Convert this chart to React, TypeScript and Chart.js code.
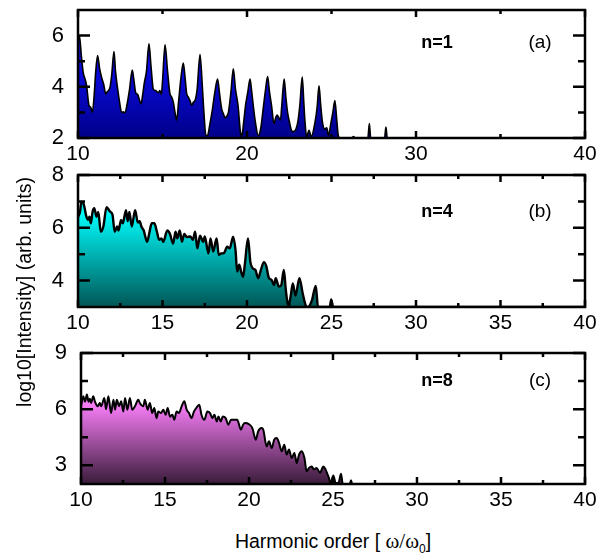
import React, { useEffect, useRef } from "react";
import { Chart, registerables } from "chart.js";

Chart.register(...registerables);

// ---------- data ----------
const xA = [10.0, 10.08, 10.2, 10.31, 10.42, 10.51, 10.65, 10.75, 10.85, 10.95, 11.05, 11.16, 11.28, 11.4, 11.52, 11.64, 11.72, 11.8, 11.9, 12.0, 12.13, 12.22, 12.35, 12.46, 12.58, 12.68, 12.78, 12.9, 13.05, 13.21, 13.3, 13.41, 13.53, 13.63, 13.73, 13.83, 13.93, 14.05, 14.2, 14.32, 14.46, 14.6, 14.75, 14.85, 14.93, 15.0, 15.15, 15.3, 15.44, 15.54, 15.64, 15.74, 15.84, 15.95, 16.1, 16.23, 16.33, 16.43, 16.53, 16.63, 16.73, 16.82, 16.92, 17.05, 17.22, 17.35, 17.45, 17.57, 17.66, 17.81, 17.95, 18.1, 18.26, 18.38, 18.5, 18.6, 18.7, 18.8, 18.9, 19.05, 19.19, 19.32, 19.47, 19.6, 19.69, 19.8, 19.92, 20.05, 20.18, 20.28, 20.37, 20.5, 20.67, 20.82, 20.95, 21.1, 21.22, 21.33, 21.45, 21.6, 21.7, 21.78, 21.88, 21.98, 22.05, 22.2, 22.3, 22.4, 22.52, 22.63, 22.75, 23.0, 23.13, 23.27, 23.36, 23.43, 23.53, 23.67, 23.8, 24.02, 24.15, 24.26, 24.36, 24.46, 24.6, 24.72, 24.82, 24.97, 25.08, 25.2, 25.3, 25.4, 25.5, 26.2, 26.3, 26.4, 27.15, 27.24, 27.32, 28.14, 28.22, 28.3, 40];
const yA = [5.7, 6.0, 5.2, 4.55, 4.3, 4.04, 3.27, 3.2, 3.0, 3.6, 4.6, 5.22, 4.7, 4.36, 4.1, 3.72, 3.8, 3.85, 4.0, 4.5, 5.38, 4.6, 3.9, 3.4, 3.0, 3.02, 2.98, 3.3, 3.9, 4.65, 4.3, 3.78, 3.7, 3.5, 3.33, 3.7, 4.17, 4.6, 5.68, 4.8, 3.9, 3.85, 3.77, 3.85, 3.7, 4.2, 5.64, 4.6, 3.73, 3.6, 3.4, 3.0, 2.69, 3.4, 4.4, 4.93, 4.4, 3.73, 3.6, 3.45, 3.27, 3.4, 3.46, 3.9, 5.26, 4.1, 3.0, 2.1, 2.1, 2.56, 3.1, 3.8, 4.3, 3.7, 3.14, 2.95, 2.8, 2.85, 3.0, 3.8, 4.7, 3.9, 3.27, 2.3, 2.05, 2.6, 3.3, 3.8, 4.3, 3.8, 3.27, 2.6, 2.1, 2.4, 3.1, 3.9, 4.4, 3.8, 3.27, 2.56, 2.8, 2.9, 2.8, 2.7, 3.2, 4.3, 3.6, 3.0, 2.6, 2.3, 2.25, 2.6, 3.3, 4.38, 3.4, 2.64, 2.05, 2.3, 2.05, 2.6, 3.2, 4.04, 3.3, 2.64, 2.35, 2.4, 2.1, 2.6, 3.0, 3.46, 2.8, 2.1, 2.0, 2.0, 2.06, 2.0, 2.0, 2.56, 2.0, 2.0, 2.43, 2.0, 2.0];

const xB = [10.0, 10.12, 10.2, 10.3, 10.5, 10.6, 10.68, 10.76, 10.86, 10.96, 11.1, 11.2, 11.35, 11.5, 11.69, 11.9, 12.04, 12.17, 12.32, 12.4, 12.55, 12.65, 12.84, 12.94, 13.04, 13.18, 13.38, 13.54, 13.65, 13.75, 13.89, 14.09, 14.22, 14.36, 14.52, 14.67, 14.8, 14.94, 15.05, 15.28, 15.44, 15.63, 15.77, 15.87, 16.02, 16.15, 16.29, 16.44, 16.64, 16.8, 16.93, 17.06, 17.22, 17.41, 17.5, 17.72, 17.84, 18.0, 18.2, 18.33, 18.48, 18.62, 18.83, 18.98, 19.18, 19.32, 19.42, 19.54, 19.67, 19.77, 19.87, 20.06, 20.2, 20.35, 20.5, 20.66, 20.82, 21.0, 21.14, 21.3, 21.45, 21.6, 21.7, 21.89, 22.03, 22.18, 22.3, 22.44, 22.57, 22.71, 22.87, 23.1, 23.3, 23.48, 23.6, 23.83, 24.07, 24.2, 24.9, 24.98, 25.1, 40];
const yB = [6.4, 6.61, 6.97, 6.95, 6.42, 6.3, 6.42, 6.17, 6.6, 6.74, 6.42, 6.6, 5.85, 6.05, 6.78, 6.61, 6.5, 5.85, 6.05, 5.9, 6.3, 6.17, 6.67, 6.25, 6.6, 6.05, 6.67, 6.2, 6.25, 6.05, 5.9, 5.47, 5.8, 6.17, 6.17, 5.85, 5.55, 5.6, 5.47, 5.9, 5.77, 5.4, 5.85, 5.6, 5.9, 5.47, 5.77, 5.65, 5.67, 5.55, 5.85, 5.22, 5.7, 5.47, 5.67, 5.03, 5.6, 5.1, 5.6, 4.97, 5.03, 5.03, 5.28, 5.22, 5.66, 5.15, 4.34, 4.6, 4.3, 4.15, 4.6, 5.6, 4.7, 4.46, 4.4, 4.09, 4.4, 4.7, 4.55, 4.09, 4.03, 3.83, 4.09, 3.77, 3.83, 4.4, 3.63, 3.05, 3.35, 3.89, 3.43, 4.09, 3.5, 3.05, 3.0, 3.23, 3.8, 3.0, 3.0, 3.29, 3.0, 3.0];

const xC = [10.0, 10.14, 10.24, 10.35, 10.45, 10.53, 10.6, 10.73, 10.83, 10.99, 11.12, 11.2, 11.39, 11.49, 11.63, 11.79, 11.93, 12.03, 12.13, 12.27, 12.39, 12.52, 12.62, 12.76, 12.91, 13.05, 13.21, 13.41, 13.5, 13.71, 13.8, 13.97, 14.1, 14.24, 14.36, 14.5, 14.6, 14.76, 14.9, 15.04, 15.16, 15.3, 15.44, 15.55, 15.69, 15.83, 15.99, 16.15, 16.29, 16.43, 16.58, 16.72, 16.86, 17.04, 17.17, 17.34, 17.52, 17.68, 17.82, 17.94, 18.08, 18.18, 18.32, 18.44, 18.61, 18.77, 18.93, 19.07, 19.3, 19.52, 19.65, 19.76, 19.99, 20.2, 20.4, 20.55, 20.75, 20.85, 21.05, 21.19, 21.35, 21.5, 21.65, 21.79, 21.95, 22.1, 22.24, 22.38, 22.54, 22.7, 22.84, 22.98, 23.14, 23.3, 23.43, 23.57, 23.73, 23.87, 24.02, 24.23, 24.42, 24.56, 24.76, 24.86, 25.02, 25.16, 25.32, 25.48, 25.58, 26.0, 26.07, 26.15, 40];
const yC = [6.15, 6.69, 6.4, 6.78, 6.4, 6.55, 6.33, 6.69, 6.4, 6.15, 6.33, 6.15, 6.6, 6.0, 6.69, 5.79, 6.5, 5.97, 6.5, 6.15, 6.42, 5.87, 6.6, 5.97, 6.6, 5.97, 6.15, 6.5, 6.33, 6.15, 6.5, 5.97, 6.33, 5.79, 6.06, 5.52, 5.87, 5.79, 5.97, 5.7, 6.06, 5.6, 5.7, 5.43, 5.87, 5.79, 6.15, 6.42, 5.97, 5.79, 5.52, 5.87, 6.06, 6.24, 5.7, 5.43, 5.87, 5.79, 5.52, 5.7, 5.34, 5.61, 5.34, 5.61, 5.52, 5.17, 5.43, 5.43, 5.43, 4.9, 5.17, 5.26, 5.2, 4.99, 4.37, 4.82, 4.99, 4.9, 4.01, 4.28, 3.92, 4.37, 4.46, 4.19, 3.75, 4.1, 3.57, 3.84, 3.39, 3.66, 3.12, 3.57, 3.75, 3.39, 2.68, 2.86, 2.94, 2.77, 2.86, 2.6, 2.94, 2.77, 2.31, 2.05, 2.46, 2.05, 2.05, 2.55, 2.0, 2.0, 2.2, 2.0, 2.0];

// tick values
const xMajorA = [10, 20, 30, 40];
const xMinorA = [15, 25, 35];
const xMajorBC = [10, 15, 20, 25, 30, 35, 40];
const xMinorBC = [12.5, 17.5, 22.5, 27.5, 32.5, 37.5];
const yMajorA = [2, 4, 6];
const yMinorA = [3, 5];
const yMajorB = [4, 6, 8];
const yMinorB = [5, 7];
const yMajorC = [3, 6, 9];
const yMinorC = [4.5, 7.5];

const FONT = "'Liberation Sans', Arial, sans-serif";

type PanelCfg = {
  xs: number[];
  ys: number[];
  yMin: number;
  yMax: number;
  xMajor: number[];
  xMinor: number[];
  yMajor: number[];
  yMinor: number[];
  stops: [number, string][];
  lineWidth: number;
  top: number;
  height: number;
  area: { left: number; right: number; top: number; bottom: number };
};

const framePlugin = {
  id: "frameTicks",
  afterDatasetsDraw(chart: any, _args: any, opts: any) {
    const { ctx, chartArea } = chart;
    const { left, right, top, bottom } = chartArea;
    const xs = chart.scales.x;
    const ys = chart.scales.y;
    ctx.save();
    ctx.strokeStyle = "#000";
    ctx.lineWidth = 2.5;
    ctx.lineCap = "butt";
    ctx.beginPath();
    const tick = (x1: number, y1: number, x2: number, y2: number) => {
      ctx.moveTo(x1, y1);
      ctx.lineTo(x2, y2);
    };
    for (const v of opts.xMajor) {
      const p = xs.getPixelForValue(v);
      tick(p, bottom, p, bottom - 7);
      tick(p, top, p, top + 7);
    }
    for (const v of opts.xMinor) {
      const p = xs.getPixelForValue(v);
      tick(p, bottom, p, bottom - 4);
      tick(p, top, p, top + 4);
    }
    for (const v of opts.yMajor) {
      const p = ys.getPixelForValue(v);
      tick(left, p, left + 12, p);
      tick(right, p, right - 12, p);
    }
    for (const v of opts.yMinor) {
      const p = ys.getPixelForValue(v);
      tick(left, p, left + 7, p);
      tick(right, p, right - 7, p);
    }
    ctx.stroke();
    ctx.strokeRect(left, top, right - left, bottom - top);
    ctx.restore();
  },
};

const zeroPad = (s: any) => {
  s.paddingTop = 0;
  s.paddingBottom = 0;
  s.paddingLeft = 0;
  s.paddingRight = 0;
};

function Panel({ cfg }: { cfg: PanelCfg }) {
  const ref = useRef<HTMLCanvasElement>(null);
  useEffect(() => {
    if (!ref.current) return;
    const a = cfg.area;
    const chart = new Chart(ref.current, {
      type: "line",
      data: {
        datasets: [
          {
            data: cfg.xs.map((x, i) => ({ x, y: cfg.ys[i] })),
            borderColor: "#000",
            borderWidth: cfg.lineWidth,
            pointRadius: 0,
            cubicInterpolationMode: "monotone",
            fill: "start",
            backgroundColor: (c: any) => {
              const { ctx, chartArea } = c.chart;
              if (!chartArea) return "rgba(0,0,0,0)";
              const g = ctx.createLinearGradient(0, chartArea.top, 0, chartArea.bottom);
              for (const [o, col] of cfg.stops) g.addColorStop(o, col);
              return g;
            },
          },
        ],
      },
      options: {
        animation: false,
        responsive: false,
        layout: { padding: { left: 0, right: 600 - a.right, top: a.top - cfg.top, bottom: 0 } },
        plugins: {
          legend: { display: false },
          tooltip: { enabled: false },
          frameTicks: {
            xMajor: cfg.xMajor,
            xMinor: cfg.xMinor,
            yMajor: cfg.yMajor,
            yMinor: cfg.yMinor,
          },
        } as any,
        scales: {
          x: {
            type: "linear",
            min: 10,
            max: 40,
            grid: { display: false, drawTicks: false },
            border: { display: false },
            afterBuildTicks: (s: any) => {
              s.ticks = cfg.xMajor.map((v) => ({ value: v }));
            },
            afterFit: (s: any) => {
              s.height = cfg.top + cfg.height - a.bottom;
              zeroPad(s);
            },
            ticks: {
              color: "#000",
              font: { family: FONT, size: 21 },
              padding: 4,
              maxRotation: 0,
              autoSkip: false,
              callback: (v: any) => String(v),
            },
          },
          y: {
            type: "linear",
            min: cfg.yMin,
            max: cfg.yMax,
            grid: { display: false, drawTicks: false },
            border: { display: false },
            afterBuildTicks: (s: any) => {
              s.ticks = cfg.yMajor.map((v) => ({ value: v }));
            },
            afterFit: (s: any) => {
              s.width = a.left;
              zeroPad(s);
            },
            ticks: {
              color: "#000",
              font: { family: FONT, size: 22 },
              padding: 14,
              autoSkip: false,
              callback: (v: any) => String(v),
            },
          },
        },
      },
      plugins: [framePlugin],
    });
    return () => chart.destroy();
  }, [cfg]);
  return (
    <canvas
      ref={ref}
      width={600}
      height={cfg.height}
      style={{ position: "absolute", left: 0, top: cfg.top, width: 600, height: cfg.height }}
    />
  );
}

const panels: PanelCfg[] = [
  {
    xs: xA, ys: yA, yMin: 2, yMax: 7,
    xMajor: xMajorA, xMinor: xMinorA, yMajor: yMajorA, yMinor: yMinorA,
    stops: [[0, "#2424ff"], [0.45, "#0a0ae2"], [1, "#000088"]],
    lineWidth: 1.6,
    top: 0, height: 170,
    area: { left: 78, right: 585, top: 10, bottom: 138 },
  },
  {
    xs: xB, ys: yB, yMin: 3, yMax: 8,
    xMajor: xMajorBC, xMinor: xMinorBC, yMajor: yMajorB, yMinor: yMinorB,
    stops: [[0, "#00ffff"], [0.3, "#00f8f8"], [1, "#005656"]],
    lineWidth: 2.4,
    top: 165, height: 170,
    area: { left: 78, right: 585, top: 175, bottom: 307 },
  },
  {
    xs: xC, ys: yC, yMin: 2, yMax: 9,
    xMajor: xMajorBC, xMinor: xMinorBC, yMajor: yMajorC, yMinor: yMinorC,
    stops: [[0, "#ff82ff"], [0.4, "#f57cf5"], [1, "#3a1c3a"]],
    lineWidth: 2.0,
    top: 343, height: 170,
    area: { left: 81, right: 585, top: 353, bottom: 484 },
  },
];

const labels = [
  { n: "n=1", p: "(a)", y: 42 },
  { n: "n=4", p: "(b)", y: 211 },
  { n: "n=8", p: "(c)", y: 380 },
];

export default function App() {
  useEffect(() => {
    document.body.style.margin = "0";
  }, []);
  return (
    <div
      style={{
        position: "absolute",
        left: 0,
        top: 0,
        width: 600,
        height: 554,
        background: "#fff",
        fontFamily: FONT,
        color: "#000",
        overflow: "hidden",
      }}
    >
      {panels.map((p, i) => (
        <Panel key={i} cfg={p} />
      ))}
      {labels.map((l, i) => (
        <React.Fragment key={i}>
          <div
            style={{
              position: "absolute",
              left: 406,
              width: 62,
              top: l.y - 12,
              lineHeight: "24px",
              fontSize: 18,
              fontWeight: "bold",
              textAlign: "center",
            }}
          >
            {l.n}
          </div>
          <div
            style={{
              position: "absolute",
              left: 515,
              width: 50,
              top: l.y - 12,
              lineHeight: "24px",
              fontSize: 19,
              textAlign: "center",
            }}
          >
            {l.p}
          </div>
        </React.Fragment>
      ))}
      <div
        style={{
          position: "absolute",
          left: 24 - 160,
          top: 292 - 12,
          width: 320,
          lineHeight: "24px",
          fontSize: 19.5,
          textAlign: "center",
          transform: "rotate(-90deg)",
          whiteSpace: "nowrap",
        }}
      >
        log10[Intensity] (arb. units)
      </div>
      <div
        style={{
          position: "absolute",
          left: 333 - 160,
          top: 529,
          width: 320,
          lineHeight: "24px",
          fontSize: 19.5,
          textAlign: "center",
          whiteSpace: "nowrap",
        }}
      >
        Harmonic order [ <span style={{ fontFamily: "'Liberation Serif', serif", fontSize: 21 }}>ω/ω</span>
        <sub style={{ fontSize: 12 }}>0</sub>]
      </div>
    </div>
  );
}
